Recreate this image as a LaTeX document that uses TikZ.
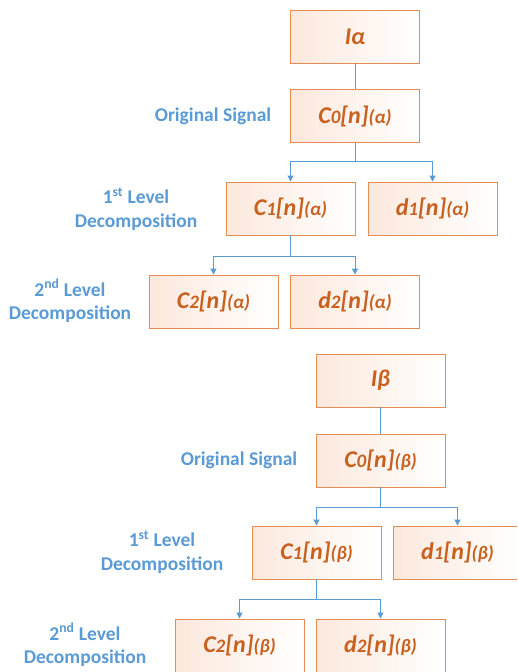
\documentclass[tikz,border=0pt]{standalone}
\usepackage{fontspec}
\setmainfont{Carlito}
\usetikzlibrary{arrows.meta}
\definecolor{boxline}{RGB}{228,140,82}
\definecolor{boxfill}{RGB}{252,232,220}
\definecolor{txtor}{RGB}{200,96,30}
\definecolor{lblue}{RGB}{91,155,213}
\tikzset{
  box/.style={draw=boxline, line width=0.9pt, left color=boxfill, right color=white,
    minimum width=129pt, minimum height=53pt, inner sep=0pt,
    font=\fontsize{24}{26}\selectfont\bfseries\itshape, text=txtor},
  lbl/.style={text=lblue, font=\fontsize{19.5}{23.5}\selectfont\bfseries, align=center},
  conn/.style={draw=lblue, line width=1pt},
  arr/.style={conn, -{Triangle[width=6pt,length=6pt]}}
}
\newcommand{\sm}[1]{{\fontsize{19}{20}\selectfont #1}}
\begin{document}
\begin{tikzpicture}[x=1pt,y=-1pt]
\useasboundingbox (0,0) rectangle (517,672);
\clip (0,0) rectangle (517,672);
\fill[white] (0,0) rectangle (517,672);
% top diagram
\node[box] (Ia) at (355,36.5) {Iα};
\node[box] (C0a) at (355,116) {C\sm{0}[n]\sm{(α)}};
\node[box] (C1a) at (290.5,208.5) {C\sm{1}[n]\sm{(α)}};
\node[box] (d1a) at (432.5,208.5) {d\sm{1}[n]\sm{(α)}};
\node[box] (C2a) at (213.5,301.5) {C\sm{2}[n]\sm{(α)}};
\node[box] (d2a) at (355,301.5) {d\sm{2}[n]\sm{(α)}};
\node[lbl] (osa) at (213,116) {Original Signal};
\node[lbl] (l1a) at (136,209) {1\textsuperscript{st} Level\\Decomposition};
\node[lbl] (l2a) at (70,301) {2\textsuperscript{nd} Level\\Decomposition};
\draw[conn] (Ia.south) -- (C0a.north);
\draw[arr] (C0a.south) -- ++(0,19) -| (C1a.north);
\draw[arr] (C0a.south) -- ++(0,19) -| (d1a.north);
\draw[arr] (C1a.south) -- ++(0,21) -| (C2a.north);
\draw[arr] (C1a.south) -- ++(0,21) -| (d2a.north);
% bottom diagram
\node[box] (Ib) at (380.5,380.5) {Iβ};
\node[box] (C0b) at (380.5,460.5) {C\sm{0}[n]\sm{(β)}};
\node[box] (C1b) at (316.5,552.5) {C\sm{1}[n]\sm{(β)}};
\node[box] (d1b) at (457.5,552.5) {d\sm{1}[n]\sm{(β)}};
\node[box] (C2b) at (239.5,645.5) {C\sm{2}[n]\sm{(β)}};
\node[box] (d2b) at (380.5,645.5) {d\sm{2}[n]\sm{(β)}};
\node[lbl] (osb) at (239,460) {Original Signal};
\node[lbl] (l1b) at (162,552) {1\textsuperscript{st} Level\\Decomposition};
\node[lbl] (l2b) at (85,645) {2\textsuperscript{nd} Level\\Decomposition};
\draw[conn] (Ib.south) -- (C0b.north);
\draw[arr] (C0b.south) -- ++(0,20) -| (C1b.north);
\draw[arr] (C0b.south) -- ++(0,20) -| (d1b.north);
\draw[arr] (C1b.south) -- ++(0,20) -| (C2b.north);
\draw[arr] (C1b.south) -- ++(0,20) -| (d2b.north);
\end{tikzpicture}
\end{document}
